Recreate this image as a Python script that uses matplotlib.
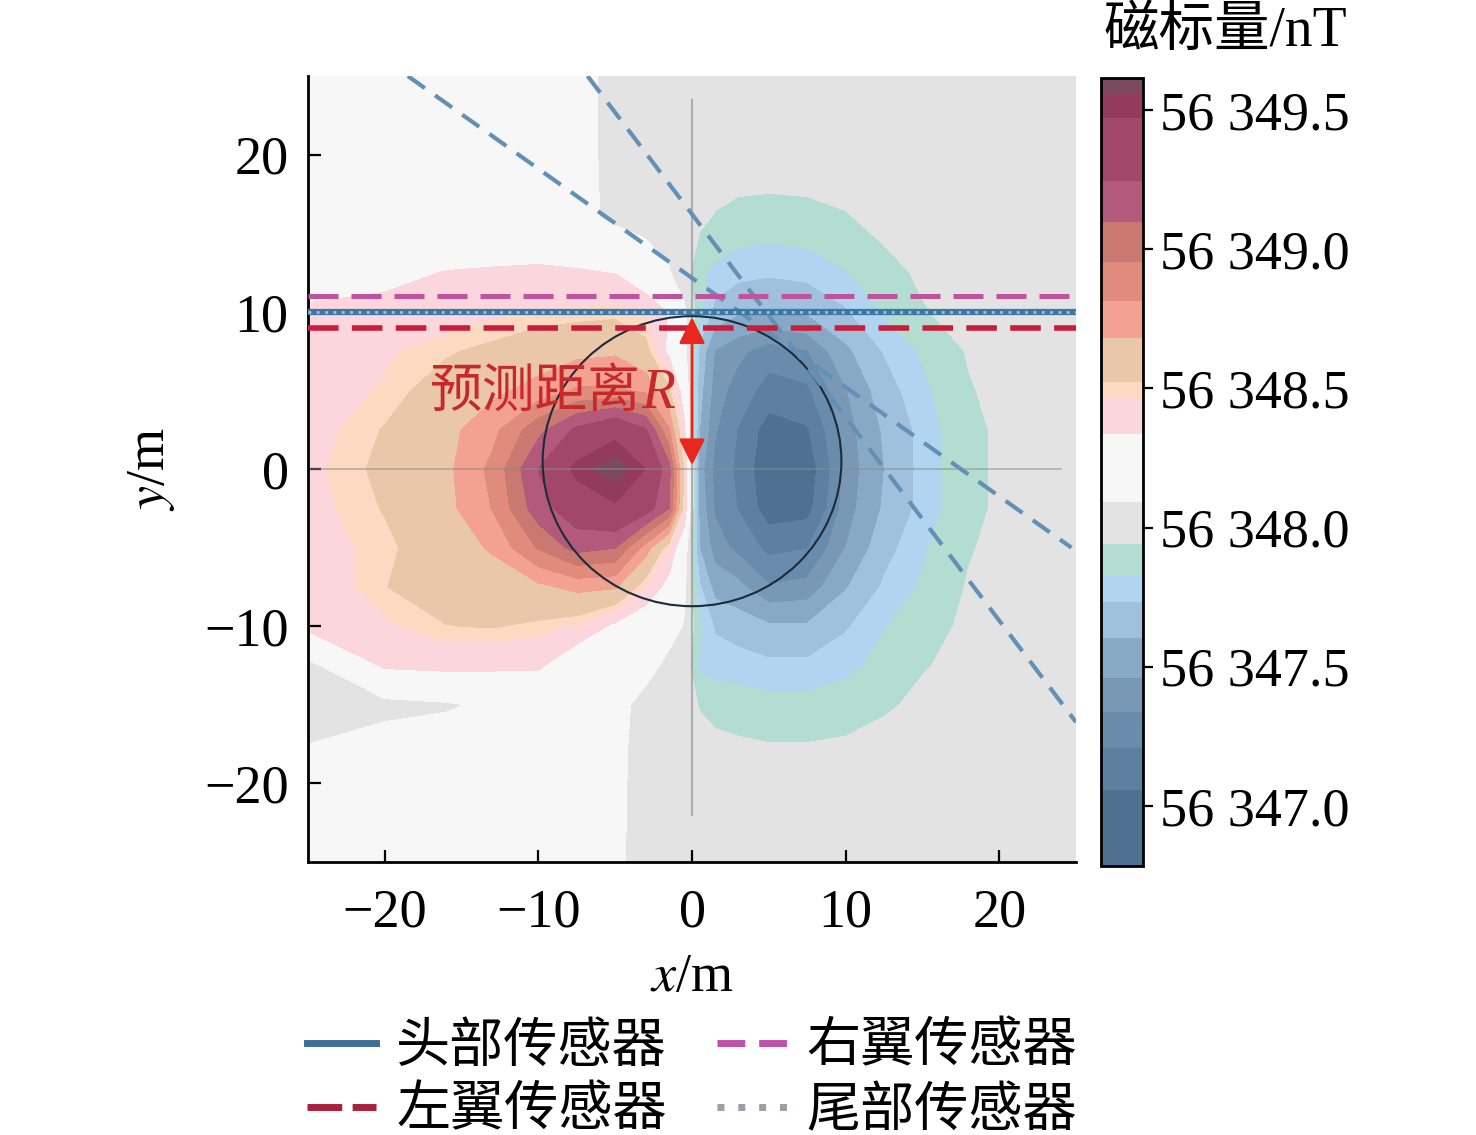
import numpy as np
import matplotlib
matplotlib.use("Agg")
import matplotlib.pyplot as plt
from matplotlib.patches import Ellipse
from matplotlib.lines import Line2D
from matplotlib.ticker import FuncFormatter

plt.rcParams['font.family'] = ['Liberation Serif', 'Noto Sans CJK SC']
plt.rcParams['mathtext.fontset'] = 'stix'
plt.rcParams['axes.unicode_minus'] = True

# 磁标量网格 (m)
grid_x = [-25, -20, -16, -13, -10, -7.5, -5, -3, -1.5, -0.5, 0.5, 1.5, 3, 5, 7.5, 10, 12.5, 15, 18, 21, 25]
grid_y = [25, 20, 16, 12.5, 10, 7.5, 5, 2.5, 0, -2.5, -5, -7.5, -10, -12.5, -15, -18, -25]
field_base = 56000.0
# 每行对应一个 grid_y, 数值 + field_base = nT
field_rows = [
    [348.20, 348.20, 348.20, 348.20, 348.19, 348.15, 348.04, 348.02, 348.02, 348.02, 348.02, 348.02, 348.02, 348.02, 348.02, 348.02, 348.02, 348.02, 348.02, 348.02, 348.02],
    [348.20, 348.20, 348.20, 348.20, 348.19, 348.15, 348.04, 348.02, 348.02, 348.02, 348.02, 348.02, 348.02, 348.02, 348.02, 348.02, 348.02, 348.02, 348.02, 348.02, 348.02],
    [348.20, 348.20, 348.20, 348.20, 348.19, 348.15, 348.05, 348.02, 348.02, 348.00, 347.97, 347.93, 347.90, 347.89, 347.90, 347.93, 347.98, 348.01, 348.02, 348.02, 348.02],
    [348.25, 348.30, 348.34, 348.35, 348.36, 348.35, 348.33, 348.20, 348.10, 348.00, 347.85, 347.80, 347.77, 347.75, 347.77, 347.82, 347.90, 347.96, 348.00, 348.02, 348.02],
    [348.36, 348.37, 348.41, 348.44, 348.47, 348.48, 348.49, 348.45, 348.32, 348.12, 347.85, 347.70, 347.62, 347.60, 347.62, 347.72, 347.84, 347.93, 347.99, 348.02, 348.02],
    [348.38, 348.45, 348.51, 348.55, 348.60, 348.64, 348.66, 348.56, 348.30, 348.15, 347.70, 347.45, 347.37, 347.27, 347.33, 347.57, 347.74, 347.84, 347.95, 348.00, 348.02],
    [348.39, 348.48, 348.58, 348.65, 348.73, 348.83, 348.84, 348.78, 348.55, 348.25, 347.65, 347.40, 347.28, 347.15, 347.18, 347.45, 347.68, 347.80, 347.93, 347.99, 348.02],
    [348.42, 348.53, 348.64, 348.77, 349.05, 349.28, 349.42, 349.26, 348.83, 348.36, 347.60, 347.35, 347.20, 346.98, 347.04, 347.40, 347.62, 347.77, 347.91, 347.98, 348.02],
    [348.44, 348.55, 348.65, 348.85, 349.25, 349.52, 349.61, 349.47, 349.15, 348.50, 347.52, 347.30, 347.18, 346.93, 346.95, 347.38, 347.60, 347.77, 347.91, 347.98, 348.02],
    [348.43, 348.53, 348.64, 348.82, 349.18, 349.35, 349.45, 349.33, 349.10, 348.45, 347.55, 347.32, 347.20, 346.97, 347.00, 347.40, 347.62, 347.77, 347.91, 347.98, 348.02],
    [348.41, 348.50, 348.60, 348.70, 348.97, 349.15, 349.10, 348.75, 348.45, 348.20, 347.60, 347.40, 347.30, 347.17, 347.20, 347.46, 347.69, 347.81, 347.93, 347.99, 348.02],
    [348.38, 348.52, 348.58, 348.60, 348.65, 348.72, 348.70, 348.45, 348.28, 348.12, 347.75, 347.55, 347.50, 347.35, 347.38, 347.59, 347.75, 347.84, 347.95, 348.00, 348.02],
    [348.38, 348.45, 348.52, 348.53, 348.50, 348.45, 348.30, 348.20, 348.15, 348.08, 347.85, 347.72, 347.68, 347.62, 347.62, 347.72, 347.82, 347.90, 347.96, 348.01, 348.02],
    [348.04, 348.36, 348.38, 348.37, 348.36, 348.20, 348.15, 348.15, 348.05, 348.02, 347.80, 347.78, 347.78, 347.76, 347.76, 347.80, 347.86, 347.93, 347.98, 348.01, 348.02],
    [348.04, 348.04, 348.07, 348.12, 348.16, 348.20, 348.15, 348.03, 348.02, 348.02, 347.93, 347.90, 347.88, 347.86, 347.86, 347.88, 347.92, 347.97, 348.01, 348.02, 348.02],
    [348.10, 348.18, 348.20, 348.20, 348.20, 348.20, 348.13, 348.03, 348.02, 348.02, 348.00, 347.98, 347.97, 347.96, 347.96, 347.97, 348.00, 348.02, 348.02, 348.02, 348.02],
    [348.20, 348.20, 348.20, 348.20, 348.20, 348.20, 348.12, 348.03, 348.02, 348.02, 348.02, 348.02, 348.02, 348.02, 348.02, 348.02, 348.02, 348.02, 348.02, 348.02, 348.02],
]

# 色带边界 (nT, 从低到高) 与颜色
band_bounds = [56346.784, 56347.056, 56347.207, 56347.338, 56347.461, 56347.602, 56347.733,
               56347.827, 56347.940, 56348.090, 56348.335, 56348.466, 56348.523, 56348.682,
               56348.814, 56348.955, 56349.096, 56349.246, 56349.472, 56349.556, 56349.615]
band_colors = ['#4f7191', '#5e80a0', '#6a8cac', '#7898b5', '#88a9c5', '#a0c1dd', '#b1d5f0',
               '#b2ddd0', '#e3e3e3', '#f7f7f7', '#fcd6dd', '#fdd9c1', '#ebc7a9', '#f3a191',
               '#e08b7b', '#c9796f', '#b35a7c', '#a2476a', '#933b5b', '#7b4a5f']
cbar_ticks = [56347.0, 56347.5, 56348.0, 56348.5, 56349.0, 56349.5]

# 传感器航线与辅助线
track_x = [-25, 25]
head_y = 10
left_y = 9
right_y = 11
tail_y = 10
diag1_x, diag1_y = [-18.5, 24.7], [25, -5.0]
diag2_x, diag2_y = [-6.8, 25], [25, -16.1]
vline_y = [23.5, -22]
hline_x = [-25, 24]
circle_center = (0, 0.5)
circle_w, circle_h = 19.45, 18.45
arrow_y = [0.25, 9.65]
label_x, label_y = -3.3, 4.8

field = field_base + np.array(field_rows)
gx = np.array(grid_x)
gy = np.array(grid_y)[::-1]
field = field[::-1]

fig = plt.figure(figsize=(14.76, 11.35), dpi=100)
ax = fig.add_axes([0.2087, 0.2405, 0.5203, 0.6925])
cax = fig.add_axes([0.7460, 0.2370, 0.0285, 0.6943])

cs = ax.contourf(gx, gy, field, levels=band_bounds, colors=band_colors, zorder=0)

ax.plot([0, 0], vline_y, color='#8c8c8c', lw=1.6, alpha=0.6, zorder=2)
ax.plot(hline_x, [0, 0], color='#8c8c8c', lw=1.2, alpha=0.6, zorder=2)

ax.add_patch(Ellipse(circle_center, circle_w, circle_h, fill=False,
                     ec='#1c2b3a', lw=1.5, zorder=3))

ax.plot(diag1_x, diag1_y, color='#6390b5', lw=3, ls=(0, (5, 3)), zorder=4)
ax.plot(diag2_x, diag2_y, color='#6390b5', lw=3, ls=(0, (5, 3)), zorder=4)

ax.plot(track_x, [right_y, right_y], color='#c0549c', lw=3.6, ls=(0, (6, 2.6)), zorder=5)
ax.plot(track_x, [head_y, head_y], color='#3f76a4', lw=4.5, zorder=5)
ax.plot(track_x, [tail_y, tail_y], color='#9ec3d6', lw=2.0, ls=(0, (1, 2)), zorder=6)
ax.plot(track_x, [left_y, left_y], color='#c81e3c', lw=4.0, ls=(0, (5.5, 2.4)), zorder=5)

ax.annotate('', xy=(0, arrow_y[1]), xytext=(0, arrow_y[0]),
            arrowprops=dict(arrowstyle='<|-|>', color='#e8281e', lw=2,
                            mutation_scale=40, shrinkA=0, shrinkB=0), zorder=7)
ax.text(label_x, label_y, '预测距离', color='#c8282a', fontsize=38,
        ha='right', va='center', zorder=7)
ax.text(label_x, label_y, 'R', color='#c8282a', fontsize=40, style='italic',
        family='Liberation Serif', ha='left', va='center', zorder=7)

ax.set_xlim(-25, 25)
ax.set_ylim(-25, 25)
ax.set_xticks([-20, -10, 0, 10, 20])
ax.set_yticks([-20, -10, 0, 10, 20])
ax.spines['top'].set_visible(False)
ax.spines['right'].set_visible(False)
ax.spines['left'].set_linewidth(2)
ax.spines['bottom'].set_linewidth(2)
ax.tick_params(direction='in', length=9, width=1.6, labelsize=39)
ax.tick_params(axis='x', pad=19)
ax.tick_params(axis='y', pad=14)
ax.set_xlabel('$x$/m', fontsize=39)
ax.set_ylabel('$y$/m', fontsize=39)
ax.xaxis.set_label_coords(0.5, -0.115)
ax.yaxis.set_label_coords(-0.17, 0.5)

cbar = fig.colorbar(cs, cax=cax, ticks=cbar_ticks, spacing='proportional')
cbar.ax.yaxis.set_major_formatter(FuncFormatter(lambda v, p: f"{v:.1f}"[:2] + ' ' + f"{v:.1f}"[2:]))
cbar.ax.tick_params(labelsize=39, length=7, width=1.6, pad=5)
cbar.outline.set_linewidth(2)
fig.text(0.830, 0.9718, '磁标量/nT', fontsize=40, ha='center', va='center')

handles = [
    Line2D([], [], color='#3f6f98', lw=5),
    Line2D([], [], color='#a8203e', lw=5, ls=(0, (5, 1.5))),
    Line2D([], [], color='#c050a8', lw=5, ls=(0, (4, 2))),
    Line2D([], [], color='#9aa0a8', lw=5, ls=(0, (1, 2))),
]
labels = ['头部传感器', '左翼传感器', '右翼传感器', '尾部传感器']
fig.legend(handles, labels, ncol=2, loc='center', bbox_to_anchor=(0.469, 0.048),
           fontsize=39, frameon=False, handlelength=1.28, handletextpad=0.37,
           columnspacing=0.93, labelspacing=0.25, borderpad=0)

fig.savefig('out.png', dpi=100)
